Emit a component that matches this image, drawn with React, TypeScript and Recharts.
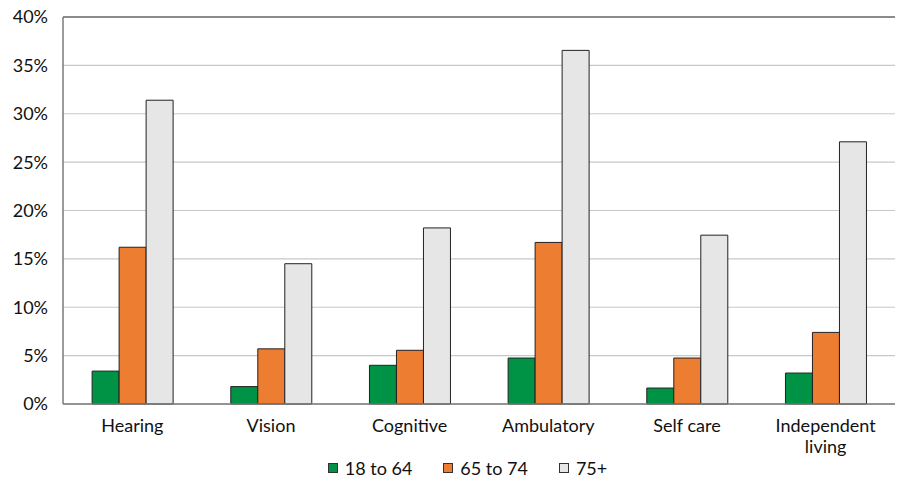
import React from "react";
import { BarChart, Bar, XAxis, YAxis, CartesianGrid, Legend, ReferenceLine } from "recharts";

const categories = ["Hearing", "Vision", "Cognitive", "Ambulatory", "Self care", "Independent living"];
const age18to64 = [3.4, 1.8, 4.0, 4.75, 1.65, 3.2];
const age65to74 = [16.2, 5.7, 5.55, 16.7, 4.75, 7.4];
const age75plus = [31.4, 14.5, 18.2, 36.55, 17.45, 27.1];
const yTicks = [0, 5, 10, 15, 20, 25, 30, 35, 40];

const SERIES = [
  { key: "a", name: "18 to 64", color: "#009245" },
  { key: "b", name: "65 to 74", color: "#ED7D31" },
  { key: "c", name: "75+", color: "#E6E6E6" },
];

const FONT = "Lato, 'Open Sans', sans-serif";

const data = categories.map((c, i) => ({
  name: c,
  a: age18to64[i],
  b: age65to74[i],
  c: age75plus[i],
}));

// wrap long category names onto two lines
const CatTick = (props: any) => {
  const { x, y, payload } = props;
  const label: string = payload.value;
  const lines = label.length > 12 ? label.split(" ") : [label];
  return (
    <text x={x} y={y} textAnchor="middle" fill="#111" fontSize={18} fontFamily={FONT}>
      {lines.map((l, i) => (
        <tspan key={i} x={x} dy={i === 0 ? 20 : 21}>
          {l}
        </tspan>
      ))}
    </text>
  );
};

const LegendBox = () => (
  <div
    style={{
      display: "flex",
      justifyContent: "center",
      alignItems: "center",
      height: 20,
      fontFamily: FONT,
      fontSize: 18,
      color: "#111",
      paddingLeft: 40,
    }}
  >
    {SERIES.map((s, i) => (
      <span
        key={s.key}
        style={{ display: "inline-flex", alignItems: "center", marginRight: i < SERIES.length - 1 ? 31 : 0 }}
      >
        <span
          style={{
            display: "inline-block",
            width: 8,
            height: 8,
            background: s.color,
            border: "1px solid #333",
            marginRight: 7,
          }}
        />
        {s.name}
      </span>
    ))}
  </div>
);

export default function App() {
  return (
    <div style={{ position: "absolute", left: 0, top: 0, width: 897, height: 478, background: "#fff" }}>
      <BarChart
        width={897}
        height={478}
        data={data}
        margin={{ top: 17, right: 2, bottom: 0, left: 0 }}
        barCategoryGap="21%"
        barGap={0}
      >
        <CartesianGrid vertical={false} stroke="#C8C8C8" strokeWidth={1.2} />
        <XAxis
          dataKey="name"
          tick={<CatTick />}
          tickLine={false}
          axisLine={{ stroke: "#7A7A7A", strokeWidth: 1.5 }}
          height={54}
          interval={0}
        />
        <YAxis
          domain={[0, 40]}
          ticks={yTicks}
          tickFormatter={(v) => `${v}%`}
          tick={{ fill: "#111", fontSize: 18, fontFamily: FONT }}
          tickLine={false}
          axisLine={{ stroke: "#7A7A7A", strokeWidth: 1.5 }}
          width={63}
          tickMargin={9}
        />
        <ReferenceLine y={40} stroke="#6E6E6E" strokeWidth={1.5} />
        <Legend verticalAlign="bottom" height={20} content={<LegendBox />} />
        {SERIES.map((s) => (
          <Bar
            key={s.key}
            dataKey={s.key}
            name={s.name}
            fill={s.color}
            stroke="#222"
            strokeWidth={1}
            isAnimationActive={false}
          />
        ))}
      </BarChart>
    </div>
  );
}
